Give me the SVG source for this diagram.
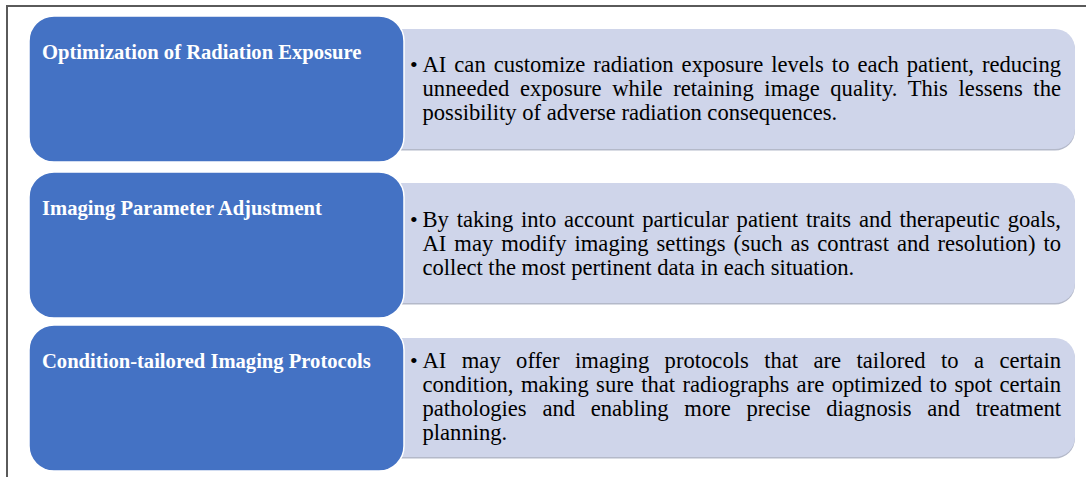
<svg xmlns="http://www.w3.org/2000/svg" width="1086" height="477" viewBox="0 0 1086 477">
<style>
.frame{stroke:#5a5a5a;stroke-width:2;fill:none}
.blue{fill:#4472C4;stroke:#ffffff;stroke-width:1.5}
.light{fill:#CFD5EA}
.shadow{fill:#b4b9c9}
.title{font-family:"Liberation Serif","Times New Roman",serif;font-weight:bold;font-size:20.6px;fill:#ffffff}
.body{font-family:"Liberation Serif","Times New Roman",serif;font-size:22.6px;fill:#000000}
.bullet{font-family:"Liberation Serif","Times New Roman",serif;font-size:22px;fill:#000000}
</style>
<rect width="1086" height="477" fill="#ffffff"/>
<path class="frame" d="M7,477 V6 H1086"/>

<g id="detail1">
<path class="shadow" d="M380,30.5 H1055 A20,20 0 0 1 1075,50.5 V130.5 A20,20 0 0 1 1055,150.5 H380 Z"/>
<path class="light" d="M380,29 H1055 A20,20 0 0 1 1075,49 V129 A20,20 0 0 1 1055,149 H380 Z"/>
<text class="bullet" x="410" y="72">•</text>
<text class="body" x="422.5" y="72" word-spacing="2.3" textLength="638.5" lengthAdjust="spacing">AI can customize radiation exposure levels to each patient, reducing</text>
<text class="body" x="422.5" y="96" word-spacing="4.9" textLength="638.5" lengthAdjust="spacing">unneeded exposure while retaining image quality. This lessens the</text>
<text class="body" x="422.5" y="120">possibility of adverse radiation consequences.</text>
</g>
<g id="node1">
<rect class="blue" x="29" y="16" width="375" height="146" rx="25" ry="25"/>
<text class="title" x="42" y="58.5">Optimization of Radiation Exposure</text>
</g>

<g id="detail2">
<path class="shadow" d="M380,184.5 H1055 A20,20 0 0 1 1075,204.5 V284.5 A20,20 0 0 1 1055,304.5 H380 Z"/>
<path class="light" d="M380,183 H1055 A20,20 0 0 1 1075,203 V283 A20,20 0 0 1 1055,303 H380 Z"/>
<text class="bullet" x="410" y="227">•</text>
<text class="body" x="422.5" y="227" word-spacing="2.2" textLength="638.5" lengthAdjust="spacing">By taking into account particular patient traits and therapeutic goals,</text>
<text class="body" x="422.5" y="251" word-spacing="2.3" textLength="638.5" lengthAdjust="spacing">AI may modify imaging settings (such as contrast and resolution) to</text>
<text class="body" x="422.5" y="275">collect the most pertinent data in each situation.</text>
</g>
<g id="node2">
<rect class="blue" x="29" y="172" width="375" height="146" rx="25" ry="25"/>
<text class="title" x="42" y="215">Imaging Parameter Adjustment</text>
</g>

<g id="detail3">
<path class="shadow" d="M380,339.5 H1055 A20,20 0 0 1 1075,359.5 V438.5 A20,20 0 0 1 1055,458.5 H380 Z"/>
<path class="light" d="M380,338 H1055 A20,20 0 0 1 1075,358 V437 A20,20 0 0 1 1055,457 H380 Z"/>
<text class="bullet" x="410" y="368">•</text>
<text class="body" x="422.5" y="368" word-spacing="9.7" textLength="638.5" lengthAdjust="spacing">AI may offer imaging protocols that are tailored to a certain</text>
<text class="body" x="422.5" y="392" word-spacing="1.8" textLength="638.5" lengthAdjust="spacing">condition, making sure that radiographs are optimized to spot certain</text>
<text class="body" x="422.5" y="416" word-spacing="10.1" textLength="638.5" lengthAdjust="spacing">pathologies and enabling more precise diagnosis and treatment</text>
<text class="body" x="422.5" y="440">planning.</text>
</g>
<g id="node3">
<rect class="blue" x="29" y="325" width="375" height="146" rx="25" ry="25"/>
<text class="title" x="42" y="368">Condition-tailored Imaging Protocols</text>
</g>

<g id="connectors"></g>
</svg>
